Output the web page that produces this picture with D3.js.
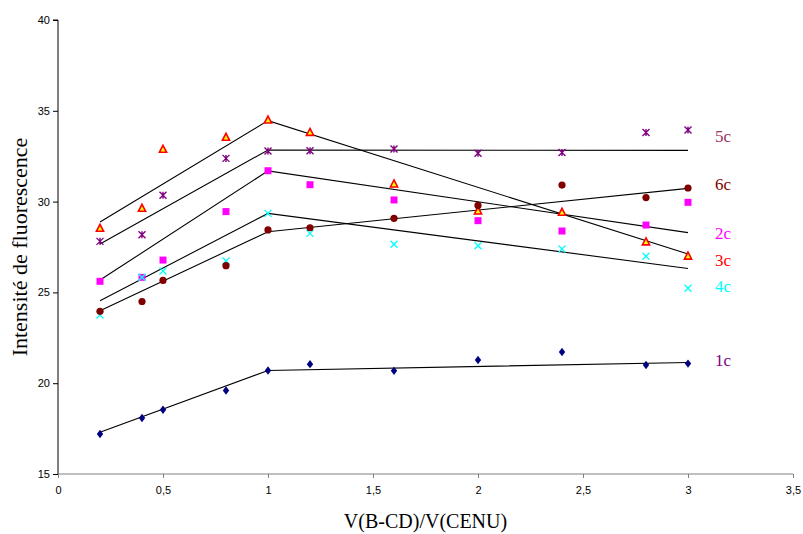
<!DOCTYPE html>
<html><head><meta charset="utf-8">
<script src="https://cdn.jsdelivr.net/npm/d3@7"></script>
<style>body{margin:0;background:#fff}svg{display:block}</style>
</head><body>
<script>
const xValues = [0.2, 0.4, 0.5, 0.8, 1.0, 1.2, 1.6, 2.0, 2.4, 2.8, 3.0];
const s1c = [17.2, 18.08, 18.54, 19.6, 20.7, 21.05, 20.68, 21.28, 21.72, 21.0, 21.08];
const s2c = [25.61, 25.83, 26.78, 29.45, 31.7, 30.93, 30.09, 28.95, 28.38, 28.71, 29.96];
const s3c = [28.53, 29.63, 32.88, 33.54, 34.49, 33.81, 30.97, 29.48, 29.41, 27.78, 27.0];
const s4c = [23.76, 25.83, 26.18, 26.73, 29.35, 28.25, 27.65, 27.57, 27.39, 26.99, 25.23];
const s5c = [27.81, 28.18, 30.35, 32.38, 32.79, 32.8, 32.9, 32.66, 32.71, 33.81, 33.94];
const s6c = [23.96, 24.5, 25.66, 26.47, 28.44, 28.56, 29.08, 29.79, 30.91, 30.22, 30.75];
// piecewise trend lines: values at x = 0.2, 1.0, 3.0
const trendX = [0.2, 1.0, 3.0];
const t1c = [17.3, 20.7, 21.14];
const t2c = [25.68, 31.69, 28.29];
const t3c = [28.88, 34.46, 27.11];
const t4c = [24.54, 29.35, 26.32];
const t5c = [27.67, 32.84, 32.82];
const t6c = [23.99, 28.34, 30.73];
const seriesNames = ["1c", "2c", "3c", "4c", "5c", "6c"];
const xTicks = [0, 0.5, 1, 1.5, 2, 2.5, 3, 3.5];
const xTickLabels = ["0", "0,5", "1", "1,5", "2", "2,5", "3", "3,5"];
const yTicks = [15, 20, 25, 30, 35, 40];

const series = [
  {name: "1c", vals: s1c, trend: t1c, marker: "diamond", color: "#000080", label: "#800080", labelY: 21.3},
  {name: "2c", vals: s2c, trend: t2c, marker: "square", color: "#FF00FF", label: "#FF00FF", labelY: 28.25},
  {name: "3c", vals: s3c, trend: t3c, marker: "triangle", color: "#FF0000", label: "#FF0000", labelY: 26.8},
  {name: "4c", vals: s4c, trend: t4c, marker: "cross", color: "#00FFFF", label: "#00FFFF", labelY: 25.35},
  {name: "5c", vals: s5c, trend: t5c, marker: "star", color: "#800080", label: "#993366", labelY: 33.6},
  {name: "6c", vals: s6c, trend: t6c, marker: "circle", color: "#800000", label: "#800000", labelY: 30.95}
];

const W = 803, H = 534;
const svg = d3.select("body").append("svg").attr("width", W).attr("height", H);
const x = d3.scaleLinear().domain([0, 3.5]).range([58, 793]);
const y = d3.scaleLinear().domain([15, 40]).range([474, 20]);

// axes
const yAxis = svg.append("g").attr("transform", `translate(${x(0)},0)`)
  .call(d3.axisLeft(y).tickValues(yTicks).tickSize(5).tickPadding(3));
yAxis.select(".domain").attr("stroke", "#000").attr("d", `M-5,${y(40)}H0V${y(15)}`);
yAxis.selectAll("text").attr("font-family", "Liberation Sans, Arial, sans-serif").attr("font-size", 11).attr("fill", "#000");

const xAxis = svg.append("g").attr("transform", `translate(0,${y(15)})`)
  .call(d3.axisBottom(x).tickValues(xTicks).tickFormat((d, i) => xTickLabels[i]).tickSize(4).tickPadding(8));
xAxis.select(".domain").attr("stroke", "#808080").attr("stroke-width", 1.2).attr("d", `M${x(0)},0H${x(3.5)}`);
xAxis.selectAll(".tick line").attr("stroke", "#808080");
xAxis.selectAll("text").attr("font-family", "Liberation Sans, Arial, sans-serif").attr("font-size", 11).attr("fill", "#000");

// trend lines
const line = d3.line().x((d, i) => x(trendX[i])).y(d => y(d));
series.forEach(s => {
  svg.append("path").attr("d", line(s.trend)).attr("fill", "none").attr("stroke", "#000").attr("stroke-width", 1.1);
});

// markers
function drawMarker(g, type, color, cx, cy) {
  const r = 3.5;
  if (type === "diamond") {
    g.append("path").attr("d", `M${cx},${cy-4.2}L${cx+3.2},${cy}L${cx},${cy+4.2}L${cx-3.2},${cy}Z`).attr("fill", color);
  } else if (type === "square") {
    g.append("rect").attr("x", cx-3.5).attr("y", cy-3.5).attr("width", 7).attr("height", 7).attr("fill", color);
  } else if (type === "triangle") {
    g.append("path").attr("d", `M${cx},${cy-4}L${cx+3.6},${cy+3}L${cx-3.6},${cy+3}Z`).attr("fill", "#FFFF00").attr("stroke", color).attr("stroke-width", 1.6);
  } else if (type === "cross") {
    g.append("path").attr("d", `M${cx-r},${cy-r}L${cx+r},${cy+r}M${cx-r},${cy+r}L${cx+r},${cy-r}`).attr("stroke", color).attr("stroke-width", 1.3);
  } else if (type === "star") {
    g.append("path").attr("d", `M${cx-r},${cy-r}L${cx+r},${cy+r}M${cx-r},${cy+r}L${cx+r},${cy-r}M${cx},${cy-r}V${cy+r}`).attr("stroke", color).attr("stroke-width", 1.4).attr("fill", "none");
  } else if (type === "circle") {
    g.append("circle").attr("cx", cx).attr("cy", cy).attr("r", 3.6).attr("fill", color);
  }
}
const order = ["1c", "2c", "3c", "5c", "4c", "6c"];
order.forEach(n => {
  const s = series.find(t => t.name === n);
  const g = svg.append("g");
  s.vals.forEach((v, i) => drawMarker(g, s.marker, s.color, x(xValues[i]), y(v)));
});

// series labels
series.forEach(s => {
  svg.append("text").attr("x", 715).attr("y", y(s.labelY)).attr("dy", "0.35em")
    .attr("font-family", "Liberation Serif, Times New Roman, serif").attr("font-size", 17)
    .attr("fill", s.label).text(s.name);
});

// axis titles
svg.append("text").attr("x", (x(0) + x(3.5)) / 2).attr("y", 528)
  .attr("text-anchor", "middle").attr("font-family", "Liberation Serif, Times New Roman, serif")
  .attr("font-size", 20).text("V(B-CD)/V(CENU)");
svg.append("text").attr("transform", `translate(27,${(y(15)+y(40))/2}) rotate(-90)`)
  .attr("text-anchor", "middle").attr("font-family", "Liberation Serif, Times New Roman, serif")
  .attr("font-size", 22).text("Intensité de fluorescence");
</script>
</body></html>
